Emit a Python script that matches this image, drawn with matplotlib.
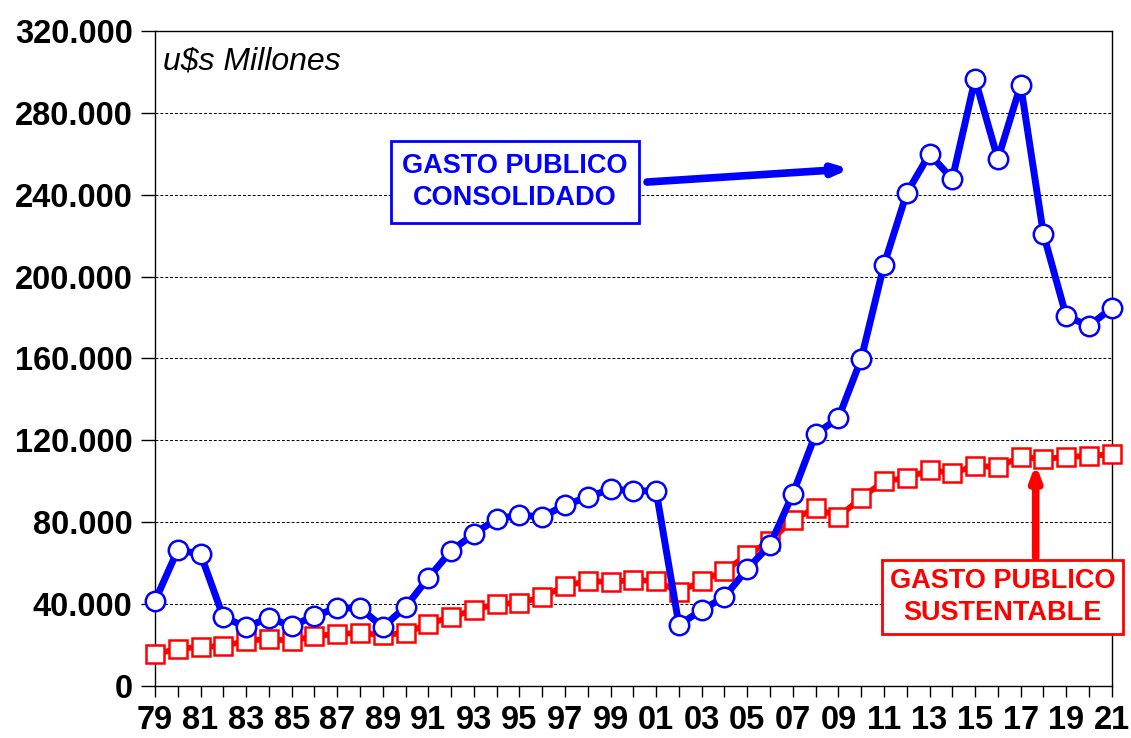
import matplotlib.pyplot as plt
from matplotlib.ticker import FuncFormatter

years = list(range(1979, 2022))

gasto_consolidado = [
    41500, 66400, 64500, 33700, 28800, 33200, 29300, 34200, 38100, 38100,
    28800, 38600, 52800, 66000, 74300, 81600, 83500, 82600, 88400, 92300,
    96200, 95300, 95300, 29800, 37100, 43500, 57200, 68900, 93800, 123100,
    130900, 159700, 205700, 240800, 259900, 247700, 296500, 257400, 293600,
    220800, 180700, 175900, 184700,
]
gasto_sustentable = [
    15600, 18100, 19100, 19500, 22000, 23000, 22000, 24400, 25400, 25900,
    24900, 25900, 30300, 33700, 37100, 40100, 40500, 43500, 48900, 51300,
    50800, 51800, 51300, 45900, 51300, 56200, 64000, 70800, 81100, 87000,
    82600, 91800, 100100, 101600, 105500, 104000, 107500, 107000, 111900,
    110900, 111900, 112400, 113300,
]
y_ticks = list(range(0, 320001, 40000))

plt.rcParams['font.family'] = ['Liberation Sans', 'DejaVu Sans']

fig = plt.figure(figsize=(11.31, 7.38), dpi=100)
ax = fig.add_axes([0.137, 0.0705, 0.846, 0.8875])

ax.plot(years, gasto_sustentable, color='#ff0000', lw=4.2, marker='s', ms=13.5,
        mfc='white', mec='#ff0000', mew=1.8, clip_on=False, zorder=3)
ax.plot(years, gasto_consolidado, color='#0000ff', lw=5, marker='o', ms=14,
        mfc='white', mec='#0000ff', mew=1.8, clip_on=False, zorder=4)

ax.set_xlim(1979, 2021)
ax.set_ylim(0, 320000)
ax.set_yticks(y_ticks)
ax.yaxis.set_major_formatter(FuncFormatter(lambda v, p: f"{int(v):,}".replace(",", ".")))
ax.set_xticks(years)
ax.set_xticklabels([f"{y % 100:02d}" if (y - 1979) % 2 == 0 else "" for y in years])

for lbl in ax.get_xticklabels() + ax.get_yticklabels():
    lbl.set_fontweight('bold')
    lbl.set_fontsize(23.5)
ax.tick_params(axis='x', direction='out', length=8, width=1, pad=6)
ax.tick_params(axis='y', direction='out', length=10, width=1, pad=6)

ax.grid(axis='y', color='black', ls=(0, (3, 2)), lw=0.7)
for s in ax.spines.values():
    s.set_linewidth(1.0)

ax.text(0.008, 0.977, "u$s Millones", transform=ax.transAxes, fontsize=23,
        style='italic', va='top', ha='left')

# etiquetas con flechas
ax.annotate("", xy=(2009.5, 252600), xytext=(2000.6, 246200),
            arrowprops=dict(arrowstyle='-|>,head_length=0.8,head_width=0.3',
                            color='#0000ff', lw=5.5, shrinkA=0, shrinkB=0))
ax.text(1994.8, 246200, "GASTO PUBLICO\nCONSOLIDADO", ha='center', va='center',
        fontsize=19.5, fontweight='bold', color='#0000ff', linespacing=1.32,
        bbox=dict(boxstyle='square,pad=0.42', fc='white', ec='#0000ff', lw=2))

ax.annotate("", xy=(2017.66, 108500), xytext=(2017.66, 63000),
            arrowprops=dict(arrowstyle='-|>,head_length=0.8,head_width=0.3',
                            color='#ff0000', lw=5.5, shrinkA=0, shrinkB=0))
ax.text(2016.2, 43500, "GASTO PUBLICO\nSUSTENTABLE", ha='center', va='center',
        fontsize=19.5, fontweight='bold', color='#ff0000', linespacing=1.32,
        bbox=dict(boxstyle='square,pad=0.3', fc='white', ec='#ff0000', lw=2),
        clip_on=False, zorder=5)

fig.savefig("out.png", dpi=100)
